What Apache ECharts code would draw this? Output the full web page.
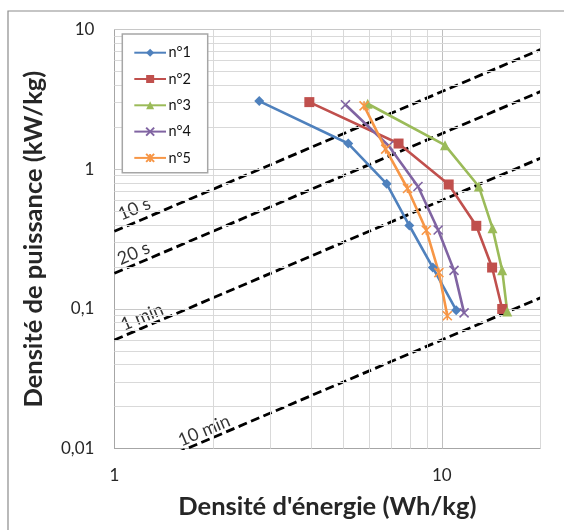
<!DOCTYPE html>
<html><head><meta charset="utf-8">
<script src="https://cdn.jsdelivr.net/npm/echarts@6/dist/echarts.min.js"></script>
<style>html,body{margin:0;padding:0;background:#fff}#c{width:564px;height:530px}</style>
</head><body><div id="c"></div>
<script>
// ---- data ----
const seriesNames = ['n°1', 'n°2', 'n°3', 'n°4', 'n°5'];
const n1Energy = [2.77, 5.18, 6.79, 7.96, 9.39, 11.07];
const n1Power  = [3.08, 1.53, 0.788, 0.396, 0.198, 0.098];
const n2Energy = [3.94, 7.38, 10.5, 12.75, 14.25, 15.3];
const n2Power  = [3.03, 1.53, 0.779, 0.394, 0.198, 0.100];
const n3Energy = [5.94, 10.23, 12.98, 14.29, 15.3, 15.85];
const n3Power  = [2.95, 1.49, 0.754, 0.379, 0.189, 0.0958];
const n4Energy = [5.08, 6.88, 8.46, 9.75, 10.9, 11.7];
const n4Power  = [2.90, 1.475, 0.753, 0.368, 0.189, 0.0938];
const n5Energy = [5.79, 6.74, 7.86, 8.97, 9.8, 10.4];
const n5Power  = [2.85, 1.395, 0.729, 0.366, 0.182, 0.0894];

// constant-time lines (energy, power) end points
const line10s   = [[1, 0.36], [20, 7.2]];
const line20s   = [[1, 0.18], [20, 3.6]];
const line1min  = [[1, 0.06], [20, 1.2]];
const line10min = [[1, 0.006], [20, 0.12]];
const timeLabels = ['10 s', '20 s', '1 min', '10 min'];
const timeLabelPos = [[1.15, 0.52], [1.145, 0.25], [1.215, 0.0875], [1.88, 0.01345]];

// tick labels and gridlines
const xTickLabels = {'0': '1', '1': '10'};
const yTickLabels = {'-2': '0,01', '-1': '0,1', '0': '1', '1': '10'};
const xMinorGrid = [2, 3, 4, 5, 6, 7, 8, 9, 20];
const xMajorGrid = [10];
const yMinorGrid = [0.02,0.03,0.04,0.05,0.06,0.07,0.08,0.09,0.2,0.3,0.4,0.5,0.6,0.7,0.8,0.9,2,3,4,5,6,7,8,9];
const yMajorGrid = [0.1, 1, 10];

const colors = ['#4F81BD', '#C0504D', '#9BBB59', '#8064A2', '#F79646'];
const symbols = ['diamond', 'rect', 'triangle',
  'path://M0,0L10,10M10,0L0,10',
  'path://M5,0L5,10M0,0L10,10M10,0L0,10'];
const symbolSizes = [10, 10, 10, 9, 9];

function zip(a, b) { return a.map((v, i) => [v, b[i]]); }
const dataSets = [zip(n1Energy, n1Power), zip(n2Energy, n2Power), zip(n3Energy, n3Power),
                  zip(n4Energy, n4Power), zip(n5Energy, n5Power)];

const FONT = 'Lato';
const chart = echarts.init(document.getElementById('c'), null, {renderer: 'canvas'});

function logKey(v) {
  const l = Math.log10(v);
  const r = Math.round(l);
  return Math.abs(l - r) < 1e-6 ? String(r) : null;
}

const gridMarks = [];
xMinorGrid.forEach(v => gridMarks.push({xAxis: v, lineStyle: {color: '#d9d9d9'}}));
xMajorGrid.forEach(v => gridMarks.push({xAxis: v, lineStyle: {color: '#bfbfbf'}}));
yMinorGrid.forEach(v => gridMarks.push({yAxis: v, lineStyle: {color: '#d9d9d9'}}));
yMajorGrid.forEach(v => gridMarks.push({yAxis: v, lineStyle: {color: '#c8c8c8'}}));

const series = [];
series.push({
  type: 'line', name: 'grid', data: [], silent: true, z: 0,
  markLine: {silent: true, symbol: ['none', 'none'], animation: false,
    label: {show: false}, lineStyle: {type: 'solid', width: 1}, data: gridMarks}
});
[line10s, line20s, line1min, line10min].forEach((d, i) => {
  series.push({type: 'line', name: 't' + i, data: d, symbol: 'none', silent: true, z: 3,
    lineStyle: {color: '#000', width: 2.8, type: [9, 4.5]}});
});
series.push({
  type: 'scatter', name: 'tlabels', symbolSize: 0, silent: true, z: 4,
  data: timeLabelPos.map((p, i) => ({value: p, label: {formatter: timeLabels[i]}})),
  label: {show: true, position: 'inside', rotate: 23, fontFamily: FONT, fontSize: 18, color: '#000'}
});
dataSets.forEach((d, i) => {
  const isPath = i >= 3;
  series.push({
    type: 'line', name: seriesNames[i], data: d, z: 5,
    symbol: symbols[i], symbolSize: symbolSizes[i],
    lineStyle: {color: colors[i], width: 2.6},
    itemStyle: isPath ? {color: colors[i], borderColor: colors[i], borderWidth: 1.6}
                      : {color: colors[i]}
  });
});

chart.setOption({
  animation: false,
  backgroundColor: '#fff',
  textStyle: {fontFamily: FONT},
  grid: {left: 114.4, right: 23.7, top: 29.7, bottom: 81.4, containLabel: false},
  legend: {
    data: seriesNames, orient: 'vertical', left: 122.3, top: 34, z: 10,
    itemWidth: 31.7, itemHeight: 10, itemGap: 8.3,
    padding: [9.7, 0, 0, 11],
    borderWidth: 0, backgroundColor: 'transparent',
    textStyle: {fontFamily: FONT, fontSize: 14.5, color: '#111', padding: [0, 0, 0, -2.5], lineHeight: 18}
  },
  xAxis: {
    type: 'log', logBase: 10, min: 1, max: 20,
    name: "Densité d'énergie (Wh/kg)", nameLocation: 'middle', nameGap: 45,
    nameTextStyle: {fontFamily: FONT, fontSize: 25.5, fontWeight: 'bold', color: '#262626'},
    axisLine: {lineStyle: {color: '#a6a6a6', width: 1}},
    axisTick: {show: false}, splitLine: {show: false}, minorSplitLine: {show: false},
    axisLabel: {margin: 18, fontFamily: FONT, fontSize: 17, color: '#262626',
      formatter: v => { const k = logKey(v); return k !== null && xTickLabels[k] ? xTickLabels[k] : ''; }}
  },
  yAxis: {
    type: 'log', logBase: 10, min: 0.01, max: 10,
    name: 'Densité de puissance (kW/kg)', nameLocation: 'middle', nameGap: 68,
    nameTextStyle: {fontFamily: FONT, fontSize: 25.5, fontWeight: 'bold', color: '#262626'},
    axisLine: {show: true, lineStyle: {color: '#a6a6a6', width: 1}},
    axisTick: {show: false}, splitLine: {show: false},
    axisLabel: {margin: 20, fontFamily: FONT, fontSize: 17, color: '#262626',
      formatter: v => { const k = logKey(v); return k !== null && yTickLabels[k] ? yTickLabels[k] : ''; }}
  },
  graphic: [
    {type: 'rect', shape: {x: 8, y: 11, width: 700, height: 700},
      style: {fill: 'none', stroke: '#8c8c8c', lineWidth: 1.2}, silent: true, z: -1},
    {type: 'rect', shape: {x: 122.3, y: 34, width: 85.4, height: 138.7},
      style: {fill: '#fff', stroke: '#a6a6a6', lineWidth: 1.5}, silent: true, z: 8}
  ],
  series: series
});
</script></body></html>
